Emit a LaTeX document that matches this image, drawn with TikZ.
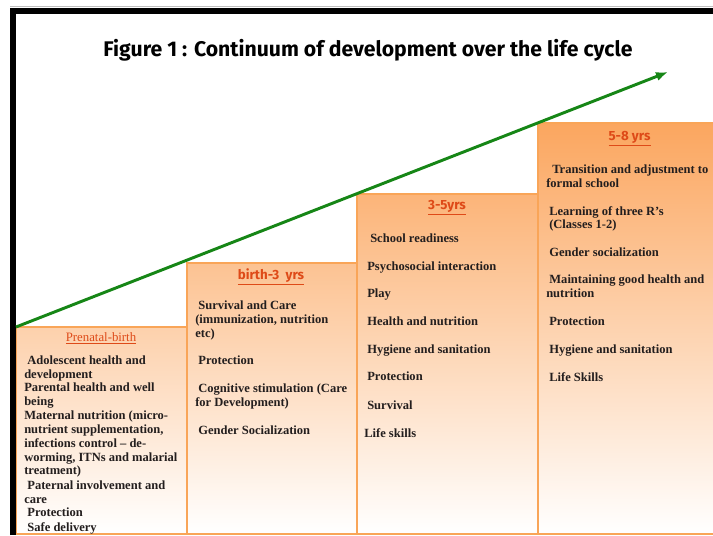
\documentclass[tikz,border=0pt]{standalone}
\usepackage{fontspec}
\setmainfont{Liberation Serif}
\newfontfamily\figfont{Fira Sans}
\usetikzlibrary{arrows.meta, fit}

\definecolor{boxtop}{RGB}{251,166,95}
\definecolor{boxline}{RGB}{249,165,88}
\definecolor{hdrred}{RGB}{222,74,24}
\definecolor{growthgreen}{RGB}{22,134,22}
\definecolor{itemtext}{RGB}{35,30,30}

\tikzset{
  stagebox/.style={draw=boxline, line width=1.5pt, inner sep=0pt, outer sep=0pt, bottom color=white},
  item/.style={anchor=north west, inner sep=0pt, align=left, text=itemtext,
    font=\bfseries\fontsize{9.4}{10.3}\selectfont},
  agehead/.style={anchor=base, inner sep=0pt, text=hdrred, font=\figfont\bfseries\fontsize{10}{12}\selectfont},
  growth/.style={draw=growthgreen, line width=2.2pt, -{Latex[length=9pt,width=7pt]}},
}

\begin{document}
\begin{tikzpicture}[x=0.75pt, y=-0.75pt]
\useasboundingbox (0,0) rectangle (713,535);

% age stages, each box a bit higher than the last
\node[stagebox, top color=boxtop!52!white, fit={(16,327) (187,533.5)}] (prenatal) {};
\node[stagebox, top color=boxtop!68!white, fit={(187,262.5) (357,533.5)}] (birth3) {};
\node[stagebox, top color=boxtop!84!white, fit={(357,194) (538,533.5)}] (three5) {};
\node[stagebox, top color=boxtop, fit={(538,123) (722,533.5)}] (five8) {};

% frame
\draw[gray!50, line width=0.75pt] (10,7) -- (713,7);
\draw[black, line width=4.5pt] (13,535) -- (13,11) -- (713,11);

\node[anchor=base, inner sep=0pt, font=\figfont\bfseries\fontsize{15.9}{19}\selectfont] (title) at (368,57)
  {Figure 1 : Continuum of development over the life cycle};

\coordinate (arrowtip) at (668,72);
\draw[growth] (prenatal.north west) -- (arrowtip);

% headings
\node[agehead, font=\fontsize{9.6}{11}\selectfont] (prenatalhead) at (101,341) {\underline{Prenatal-birth}};
\node[agehead] (birth3head) at (271,279) {\underline{birth-3\ \ yrs}};
\node[agehead] (three5head) at (447,209) {\underline{3-5yrs}};
\node[agehead] (five8head) at (629.5,140) {\underline{5-8 yrs}};

% prenatal-birth
\node[item] (adolescent) at (24,356) {\ Adolescent health and\\development};
\node[item] (parental) at (24,383) {Parental health and well\\being};
\node[item] (maternal) at (24,411) {Maternal nutrition (micro-\\nutrient supplementation,\\infections control -- de-\\worming, ITNs and malarial\\treatment)};
\node[item] (paternal) at (24,481) {\ Paternal involvement and\\care};
\node[item] (protectA) at (24,508) {\ Protection};
\node[item] (delivery) at (24,522) {\ Safe delivery};

% birth-3 yrs
\node[item] (survivalB) at (195,301) {\ Survival and Care\\(immunization, nutrition\\etc)};
\node[item] (protectB) at (195,356) {\ Protection};
\node[item] (cognitive) at (195,384) {\ Cognitive stimulation (Care\\for Development)};
\node[item] (genderB) at (195,426) {\ Gender Socialization};

% 3-5yrs
\node[item] (readiness) at (370,234) {School readiness};
\node[item] (psycho) at (367,262) {Psychosocial interaction};
\node[item] (play) at (367,289) {Play};
\node[item] (healthC) at (367,317) {Health and nutrition};
\node[item] (hygieneC) at (367,345) {Hygiene and sanitation};
\node[item] (protectC) at (367,372) {Protection};
\node[item] (survivalC) at (367,401) {Survival};
\node[item] (lifeC) at (364,428) {Life skills};

% 5-8 yrs
\node[item] (transition) at (546,165) {\hspace*{4.5pt}Transition and adjustment to\\formal school};
\node[item] (threeRs) at (549,206) {Learning of three R’s\\(Classes 1-2)};
\node[item] (genderD) at (549,248) {Gender socialization};
\node[item] (maintain) at (546,275) {\ Maintaining good health and\\nutrition};
\node[item] (protectD) at (549,317) {Protection};
\node[item] (hygieneD) at (549,345) {Hygiene and sanitation};
\node[item] (lifeD) at (549,372) {Life Skills};

\end{tikzpicture}
\end{document}
